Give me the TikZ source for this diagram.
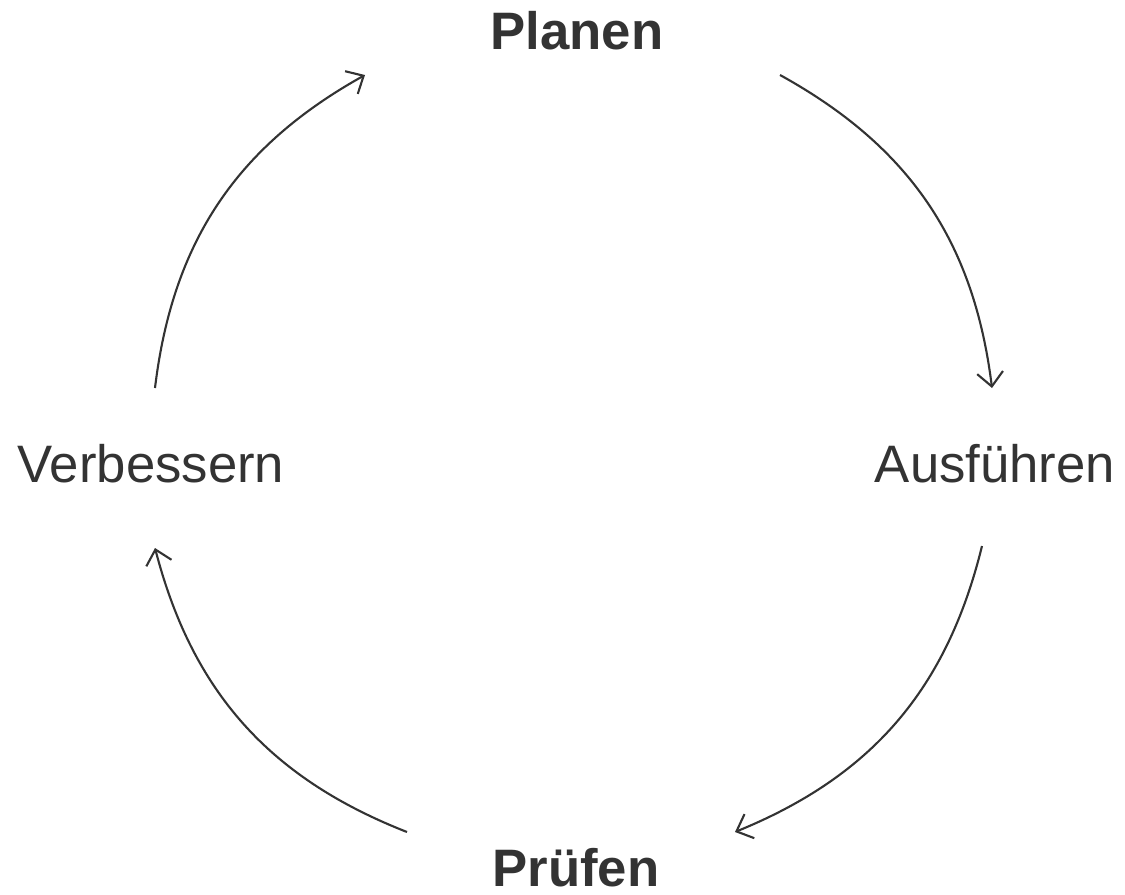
\documentclass[tikz,border=0pt]{standalone}
\usepackage{fontspec}
\setmainfont{Liberation Sans}
\usetikzlibrary{arrows.meta}
\definecolor{ink}{HTML}{333333}
\begin{document}
\begin{tikzpicture}[x=0.02cm, y=-0.02cm,
  every node/.style={text=ink, font=\fontsize{30}{36}\selectfont, anchor=base},
  cycle/.style={draw=ink, line width=1.2pt, -{Straight Barb[length=0.28cm, width=0.52cm]}}]
\useasboundingbox (0,0) rectangle (1125,895);
\node[font=\fontsize{30}{36}\selectfont\bfseries] (plan) at (577,50) {Planen};
\node (ausf) at (995,482) {Ausführen};
\node[font=\fontsize{30}{36}\selectfont\bfseries, inner sep=0pt, text depth=0pt] (pruef) at (576,886) {Prüfen};
\node (verb) at (151,482) {Verbessern};
\coordinate (p1) at (780,75);
\coordinate (a1) at (992,388);
\coordinate (a2) at (982,546);
\coordinate (r1) at (735,832);
\coordinate (r2) at (407,832);
\coordinate (v1) at (155,548);
\coordinate (v2) at (155,388);
\coordinate (p2) at (365,75);
\draw[cycle] (p1) to[bend left=27] (a1);
\draw[cycle] (a2) to[bend left=27] (r1);
\draw[cycle] (r2) to[bend left=27] (v1);
\draw[cycle] (v2) to[bend left=27] (p2);
\end{tikzpicture}
\end{document}
